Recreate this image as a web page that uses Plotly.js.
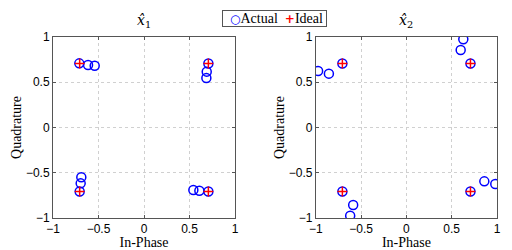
<!DOCTYPE html>
<html><head><meta charset="utf-8">
<script src="https://cdn.plot.ly/plotly-3.0.1.min.js"></script>
<style>html,body{margin:0;padding:0;background:#fff}#c{width:512px;height:250px}</style>
</head><body><div id="c"></div>
<script>
const ideal1X = [-0.707, 0.707, -0.707, 0.707];
const ideal1Y = [0.707, 0.707, -0.707, -0.707];
const actual1X = [-0.711, -0.615, -0.542, 0.707, 0.689, 0.685, -0.689, -0.696, -0.707, 0.542, 0.608, 0.707];
const actual1Y = [0.709, 0.690, 0.683, 0.707, 0.617, 0.547, -0.550, -0.617, -0.707, -0.690, -0.698, -0.707];
const ideal2X = [-0.707, 0.707, -0.707, 0.707];
const ideal2Y = [0.707, 0.707, -0.707, -0.707];
const actual2X = [-0.975, -0.856, -0.707, 0.628, 0.599, 0.707, -0.588, -0.621, -0.707, 0.860, 0.981, 0.707];
const actual2Y = [0.624, 0.595, 0.707, 0.974, 0.856, 0.707, -0.856, -0.974, -0.707, -0.595, -0.624, -0.707];
const tickVals = [-1, -0.5, 0, 0.5, 1];
const tickText = ['\u22121', '\u22120.5', '0', '0.5', '1'];
const seriesNames = ['Actual', 'Ideal'];

const circ = {symbol: 'circle-open', size: 9, color: '#0000ff', line: {width: 1.5, color: '#0000ff'}};
const plus = {symbol: 'cross-thin-open', size: 7, color: '#ff0000', line: {width: 1.5, color: '#ff0000'}};
const data = [
  {x: actual1X, y: actual1Y, type: 'scatter', mode: 'markers', name: seriesNames[0], marker: circ, xaxis: 'x', yaxis: 'y'},
  {x: ideal1X, y: ideal1Y, type: 'scatter', mode: 'markers', name: seriesNames[1], marker: plus, xaxis: 'x', yaxis: 'y'},
  {x: actual2X, y: actual2Y, type: 'scatter', mode: 'markers', name: seriesNames[0], marker: circ, xaxis: 'x2', yaxis: 'y2'},
  {x: ideal2X, y: ideal2Y, type: 'scatter', mode: 'markers', name: seriesNames[1], marker: plus, xaxis: 'x2', yaxis: 'y2'}
];
const serif = '"Liberation Serif", "DejaVu Serif", serif';
const sans = '"Liberation Sans", Arial, sans-serif';
function ax(domain, anchor, title) {
  return {
    domain: domain, anchor: anchor, range: [-1, 1], tickvals: tickVals, ticktext: tickText,
    showline: true, mirror: 'ticks', linecolor: '#555', linewidth: 1,
    ticks: 'inside', ticklen: 3, tickcolor: '#555',
    showgrid: true, gridcolor: '#d0d0d0', griddash: 'dot', gridwidth: 1,
    zeroline: false, tickfont: {family: sans, size: 12, color: '#000'},
    title: {text: title, font: {family: serif, size: 14, color: '#000'}, standoff: 0}
  };
}
const legendText = '\u2002<span style="color:#0000ff;font-family:DejaVu Sans;font-size:12px;font-weight:bold">\u25CB</span>' + seriesNames[0] +
  '\u2002<span style="color:#ff0000;font-family:DejaVu Sans;font-size:12px;font-weight:bold">+</span>' + seriesNames[1] + '\u2009';
const layout = {
  width: 512, height: 250, paper_bgcolor: '#fff', plot_bgcolor: '#fff',
  margin: {l: 53, r: 15, t: 37, b: 32, autoexpand: false},
  showlegend: false,
  xaxis: ax([0, 0.41], 'y', 'In-Phase'),
  yaxis: ax([0, 1], 'x', 'Quadrature'),
  xaxis2: ax([0.592, 1], 'y2', 'In-Phase'),
  yaxis2: ax([0, 1], 'x2', 'Quadrature'),
  annotations: [
    {text: '<i>x\u0302</i><sub>1</sub>', xref: 'x domain', yref: 'paper', x: 0.5, y: 1.0, yanchor: 'bottom', yshift: 5, showarrow: false, font: {family: '"DejaVu Serif", serif', size: 14, color: '#000'}},
    {text: '<i>x\u0302</i><sub>2</sub>', xref: 'x2 domain', yref: 'paper', x: 0.5, y: 1.0, yanchor: 'bottom', yshift: 5, showarrow: false, font: {family: '"DejaVu Serif", serif', size: 14, color: '#000'}},
    {text: legendText, xref: 'paper', yref: 'paper', x: 0.5, y: 1.055, xanchor: 'center', yanchor: 'bottom', xshift: -1, showarrow: false,
      bordercolor: '#555', borderwidth: 1, borderpad: 0, bgcolor: '#fff', font: {family: serif, size: 14, color: '#000'}}
  ]
};
Plotly.newPlot('c', data, layout, {displayModeBar: false, staticPlot: true});
</script></body></html>
